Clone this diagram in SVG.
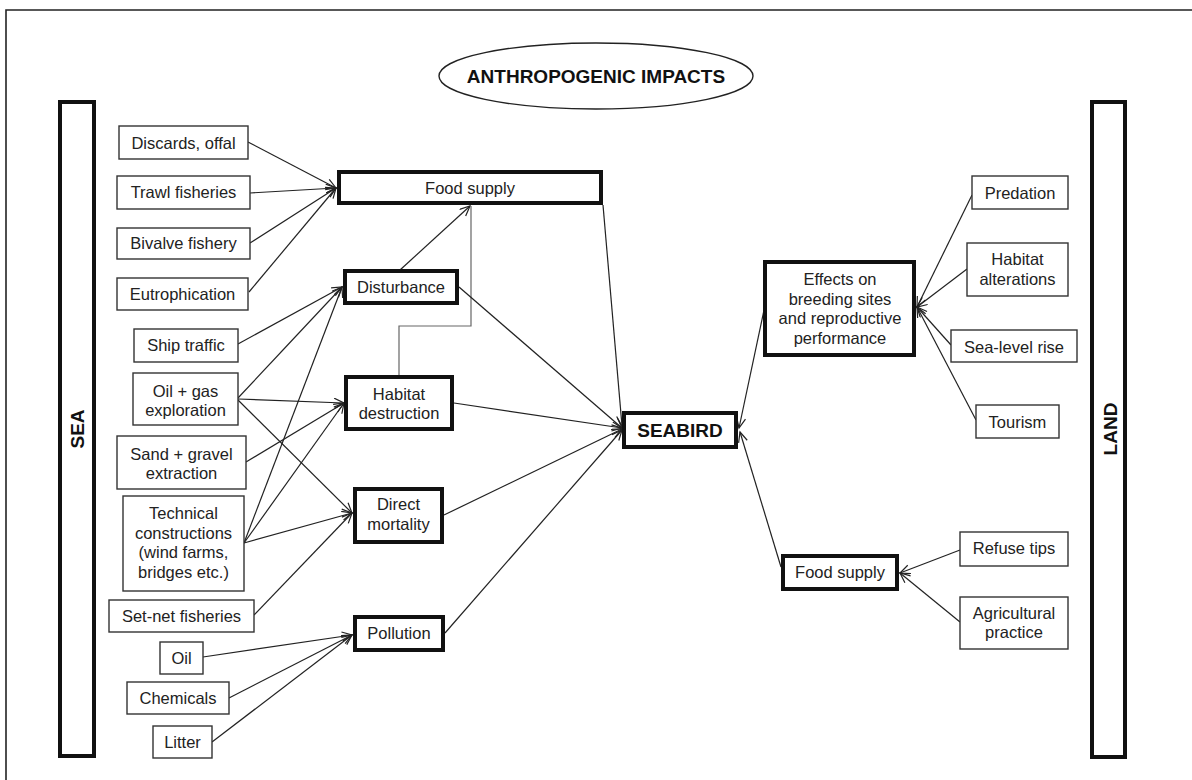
<svg xmlns="http://www.w3.org/2000/svg" width="1192" height="780" viewBox="0 0 1192 780">
<defs>
<marker id="ah" markerUnits="userSpaceOnUse" markerWidth="14" markerHeight="12" refX="11" refY="5" orient="auto">
<path d="M1,0.5 L11,5 L1,9.5" fill="none" stroke="#222" stroke-width="1.2"/>
</marker>
<style>
.thin{fill:#fff;stroke:#333;stroke-width:1.4}
.thick{fill:#fff;stroke:#111;stroke-width:4}
.t{font-family:"Liberation Sans",Arial,sans-serif;font-size:16.5px;fill:#222;text-anchor:middle}
.b{font-family:"Liberation Sans",Arial,sans-serif;font-size:19px;font-weight:bold;fill:#111;text-anchor:middle}
.c{fill:none;stroke:#222;stroke-width:1.2;marker-end:url(#ah)}
.cg{fill:none;stroke:#666;stroke-width:1.2}
</style>
</defs>
<rect width="1192" height="780" fill="#fff"/>
<path d="M6,780 L6,10 L1192,10" fill="none" stroke="#222" stroke-width="1.6"/>

<g id="title">
<ellipse cx="596" cy="76" rx="157" ry="33" fill="#fff" stroke="#222" stroke-width="1.4"/>
<text class="b" x="596" y="83">ANTHROPOGENIC IMPACTS</text>
</g>

<g id="sea">
<rect class="thick" x="60" y="102" width="34" height="654"/>
<text class="b" transform="translate(84,429) rotate(-90)" x="0" y="0">SEA</text>
</g>
<g id="land">
<rect class="thick" x="1092" y="102" width="33" height="655"/>
<text class="b" transform="translate(1117,429) rotate(-90)" x="0" y="0">LAND</text>
</g>

<g id="connectors">
<line class="c" x1="248" y1="142" x2="336" y2="188"/>
<line class="c" x1="250" y1="193" x2="336" y2="188"/>
<line class="c" x1="250" y1="243" x2="336" y2="188"/>
<line class="c" x1="249" y1="292" x2="336" y2="188"/>
<line class="c" x1="238" y1="344" x2="342" y2="287"/>
<line class="c" x1="238" y1="398" x2="342" y2="287"/>
<line class="c" x1="238" y1="399" x2="344" y2="403"/>
<line class="c" x1="238" y1="400" x2="352" y2="513"/>
<line class="c" x1="246" y1="462" x2="344" y2="403"/>
<line class="c" x1="244" y1="543" x2="342" y2="287"/>
<line class="c" x1="244" y1="543" x2="344" y2="403"/>
<line class="c" x1="244" y1="543" x2="352" y2="513"/>
<line class="c" x1="254" y1="615" x2="352" y2="513"/>
<line class="c" x1="203" y1="657" x2="352" y2="635"/>
<line class="c" x1="229" y1="698" x2="352" y2="635"/>
<line class="c" x1="212" y1="742" x2="352" y2="635"/>
<line class="c" x1="400" y1="270" x2="470" y2="206"/>
<polyline class="cg" points="399,375 399,326 471,326 471,206"/>
<line class="c" x1="459" y1="287" x2="622" y2="428"/>
<line class="c" x1="454" y1="403" x2="622" y2="428"/>
<line class="c" x1="603" y1="205" x2="622" y2="426"/>
<line class="c" x1="444" y1="515" x2="622" y2="429"/>
<line class="c" x1="445" y1="633" x2="622" y2="430"/>
<line class="c" x1="764" y1="310" x2="739" y2="428"/>
<line class="c" x1="781" y1="567" x2="740" y2="432"/>
<line class="c" x1="972" y1="195" x2="917" y2="307"/>
<line class="c" x1="967" y1="269" x2="917" y2="307"/>
<line class="c" x1="951" y1="345" x2="917" y2="307"/>
<line class="c" x1="976" y1="420" x2="917" y2="307"/>
<line class="c" x1="960" y1="550" x2="900" y2="573"/>
<line class="c" x1="960" y1="622" x2="900" y2="573"/>
</g>

<g id="discards"><rect class="thin" x="119" y="126" width="129" height="33"/><text class="t" x="183.5" y="148.5">Discards, offal</text></g>
<g id="trawl"><rect class="thin" x="117" y="176" width="133" height="33"/><text class="t" x="183.5" y="198">Trawl fisheries</text></g>
<g id="bivalve"><rect class="thin" x="117" y="228" width="133" height="31"/><text class="t" x="183.5" y="249">Bivalve fishery</text></g>
<g id="eutrophication"><rect class="thin" x="117" y="278" width="131" height="32"/><text class="t" x="182.5" y="300">Eutrophication</text></g>
<g id="ship"><rect class="thin" x="134" y="329" width="104" height="33"/><text class="t" x="186" y="351">Ship traffic</text></g>
<g id="oilgas"><rect class="thin" x="133" y="373" width="105" height="52"/><text class="t" x="185.5" y="397">Oil + gas</text><text class="t" x="185.5" y="416">exploration</text></g>
<g id="sand"><rect class="thin" x="117" y="436" width="129" height="53"/><text class="t" x="181.5" y="460">Sand + gravel</text><text class="t" x="181.5" y="479">extraction</text></g>
<g id="technical"><rect class="thin" x="123" y="496" width="121" height="95"/><text class="t" x="183.5" y="519">Technical</text><text class="t" x="183.5" y="538.5">constructions</text><text class="t" x="183.5" y="558">(wind farms,</text><text class="t" x="183.5" y="577.5">bridges etc.)</text></g>
<g id="setnet"><rect class="thin" x="109" y="600" width="145" height="32"/><text class="t" x="181.5" y="622">Set-net fisheries</text></g>
<g id="oil"><rect class="thin" x="160" y="642" width="43" height="32"/><text class="t" x="181.5" y="664">Oil</text></g>
<g id="chemicals"><rect class="thin" x="127" y="682" width="102" height="32"/><text class="t" x="178" y="704">Chemicals</text></g>
<g id="litter"><rect class="thin" x="153" y="726" width="59" height="32"/><text class="t" x="182.5" y="748">Litter</text></g>

<g id="foodsupply-sea"><rect class="thick" x="339" y="172" width="262" height="31"/><text class="t" x="470" y="194">Food supply</text></g>
<g id="disturbance"><rect class="thick" x="345" y="271" width="112" height="32"/><text class="t" x="401" y="293">Disturbance</text></g>
<g id="habitat-destruction"><rect class="thick" x="346" y="377" width="106" height="52"/><text class="t" x="399" y="400">Habitat</text><text class="t" x="399" y="419">destruction</text></g>
<g id="direct-mortality"><rect class="thick" x="355" y="489" width="87" height="53"/><text class="t" x="398.5" y="510">Direct</text><text class="t" x="398.5" y="529.5">mortality</text></g>
<g id="pollution"><rect class="thick" x="355" y="617" width="88" height="33"/><text class="t" x="399" y="639">Pollution</text></g>
<g id="seabird"><rect class="thick" x="624" y="413" width="112" height="34"/><text class="b" x="680" y="437">SEABIRD</text></g>

<g id="effects"><rect class="thick" x="765" y="262" width="149" height="93"/><text class="t" x="840" y="285">Effects on</text><text class="t" x="840" y="304.5">breeding sites</text><text class="t" x="840" y="324">and reproductive</text><text class="t" x="840" y="343.5">performance</text></g>
<g id="predation"><rect class="thin" x="972" y="176" width="96" height="33"/><text class="t" x="1020" y="199">Predation</text></g>
<g id="habitat-alterations"><rect class="thin" x="967" y="243" width="101" height="53"/><text class="t" x="1017.5" y="265">Habitat</text><text class="t" x="1017.5" y="285">alterations</text></g>
<g id="sealevel"><rect class="thin" x="951" y="330" width="126" height="32"/><text class="t" x="1014" y="353">Sea-level rise</text></g>
<g id="tourism"><rect class="thin" x="976" y="405" width="83" height="33"/><text class="t" x="1017.5" y="428">Tourism</text></g>
<g id="foodsupply-land"><rect class="thick" x="783" y="556" width="114" height="33"/><text class="t" x="840" y="578">Food supply</text></g>
<g id="refuse"><rect class="thin" x="960" y="532" width="108" height="34"/><text class="t" x="1014" y="554">Refuse tips</text></g>
<g id="agricultural"><rect class="thin" x="960" y="597" width="108" height="52"/><text class="t" x="1014" y="619">Agricultural</text><text class="t" x="1014" y="638">practice</text></g>
</svg>
